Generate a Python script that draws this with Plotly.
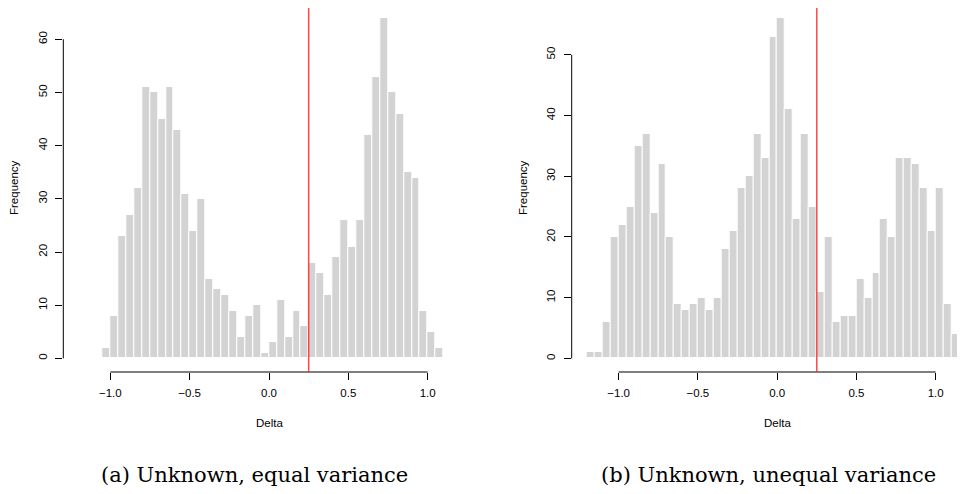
import plotly.graph_objects as go

# ---- data -------------------------------------------------------------
bin_width = 0.05
left_edges_a = [-1.05, -1.0, -0.95, -0.9, -0.85, -0.8, -0.75, -0.7, -0.65, -0.6,
                -0.55, -0.5, -0.45, -0.4, -0.35, -0.3, -0.25, -0.2, -0.15, -0.1,
                -0.05, 0.0, 0.05, 0.1, 0.15, 0.2, 0.25, 0.3, 0.35, 0.4,
                0.45, 0.5, 0.55, 0.6, 0.65, 0.7, 0.75, 0.8, 0.85, 0.9,
                0.95, 1.0, 1.05]
counts_a = [2, 8, 23, 27, 32, 51, 50, 45, 51, 43,
            31, 24, 30, 15, 13, 12, 9, 4, 8, 10,
            1, 3, 11, 4, 9, 6, 18, 16, 12, 19,
            26, 21, 26, 42, 53, 64, 50, 46, 35, 34,
            9, 5, 2]

left_edges_b = [-1.2, -1.15, -1.1, -1.05, -1.0, -0.95, -0.9, -0.85, -0.8, -0.75,
                -0.7, -0.65, -0.6, -0.55, -0.5, -0.45, -0.4, -0.35, -0.3, -0.25,
                -0.2, -0.15, -0.1, -0.05, 0.0, 0.05, 0.1, 0.15, 0.2, 0.25,
                0.3, 0.35, 0.4, 0.45, 0.5, 0.55, 0.6, 0.65, 0.7, 0.75,
                0.8, 0.85, 0.9, 0.95, 1.0, 1.05, 1.1, 1.15]
counts_b = [1, 1, 6, 20, 22, 25, 35, 37, 24, 32,
            20, 9, 8, 9, 10, 8, 10, 18, 21, 28,
            30, 37, 33, 53, 56, 41, 23, 37, 25, 11,
            20, 6, 7, 7, 13, 10, 14, 23, 20, 33,
            33, 32, 28, 21, 28, 9, 4, 2]

threshold = 0.25
x_ticks = [-1.0, -0.5, 0.0, 0.5, 1.0]
y_ticks_a = [0, 10, 20, 30, 40, 50, 60]
y_ticks_b = [0, 10, 20, 30, 40, 50]
captions = ["(a) Unknown, equal variance", "(b) Unknown, unequal variance"]
x_title = "Delta"
y_title = "Frequency"

# ---- figure -----------------------------------------------------------
OFF = 8                      # page body margin
W, H = 965 - OFF, 494 - OFF  # figure size so that its right/bottom edge meets the window edge
BAR = "#D3D3D3"
FONT = "Liberation Sans, Arial, Helvetica, sans-serif"

def px_x(p):                 # window pixel -> paper fraction
    return (p - OFF) / W

def px_y(p):
    return 1 - (p - OFF) / H

fig = go.Figure()
fig.add_trace(go.Bar(x=left_edges_a, y=counts_a, width=bin_width, offset=0,
                     marker=dict(color=BAR, line=dict(color="white", width=1)),
                     xaxis="x", yaxis="y", showlegend=False, hoverinfo="skip"))
fig.add_trace(go.Bar(x=left_edges_b, y=counts_b, width=bin_width, offset=0,
                     marker=dict(color=BAR, line=dict(color="white", width=1)),
                     xaxis="x2", yaxis="y2", showlegend=False, hoverinfo="skip"))

ydom = [px_y(372.0), 1.0]
common_x = dict(tickvals=x_ticks, tickformat=".1f", ticks="outside", ticklen=7,
                tickwidth=1, tickcolor="black", showline=False, showgrid=False,
                zeroline=False, tickfont=dict(family=FONT, size=11.5, color="black"),
                ticklabelstandoff=3)
common_y = dict(ticks="outside", ticklen=7, tickwidth=1, tickcolor="black",
                showline=False, showgrid=False, zeroline=False, tickangle=-90,
                tickfont=dict(family=FONT, size=11.5, color="black"),
                ticklabelstandoff=4)

fig.update_layout(
    width=W, height=H, margin=dict(l=0, r=0, t=0, b=0),
    paper_bgcolor="white", plot_bgcolor="white", bargap=0,
    xaxis=dict(domain=[px_x(63.3), px_x(474.7)], range=[-1.296, 1.296],
               anchor="y", **common_x),
    yaxis=dict(domain=ydom, range=[-2.56, 65.88], tickvals=y_ticks_a,
               anchor="x", **common_y),
    xaxis2=dict(domain=[px_x(571.7), 1.0], range=[-1.296, 1.185],
                anchor="y2", **common_x),
    yaxis2=dict(domain=ydom, range=[-2.24, 57.71], tickvals=y_ticks_b,
                anchor="x2", **common_y),
)

shapes = []
for xa, ya, ymax in (("x", "y", max(y_ticks_a)), ("x2", "y2", max(y_ticks_b))):
    # R-style axis lines spanning only the tick range
    shapes.append(dict(type="line", xref=xa, yref=ya + " domain",
                       x0=x_ticks[0], x1=x_ticks[-1], y0=0, y1=0,
                       line=dict(color="black", width=1)))
    shapes.append(dict(type="line", xref=xa + " domain", yref=ya,
                       x0=0, x1=0, y0=0, y1=ymax,
                       line=dict(color="black", width=1)))
    shapes.append(dict(type="line", xref=xa, yref=ya + " domain",
                       x0=threshold, x1=threshold, y0=0, y1=1,
                       line=dict(color="rgba(255,40,40,0.85)", width=1.5), layer="above"))
fig.update_layout(shapes=shapes)

ann = []
for cx, fx in ((269.0, 14.0), (777.2, 523.0)):
    ann.append(dict(text=x_title, xref="paper", yref="paper", x=px_x(cx), y=px_y(423),
                    xanchor="center", yanchor="middle", showarrow=False,
                    font=dict(family=FONT, size=11.5, color="black")))
    ann.append(dict(text=y_title, xref="paper", yref="paper", x=px_x(fx), y=px_y(188),
                    xanchor="center", yanchor="middle", showarrow=False, textangle=-90,
                    font=dict(family=FONT, size=11.5, color="black")))
for cx, txt in zip((255.0, 768.6), captions):
    ann.append(dict(text=txt, xref="paper", yref="paper", x=px_x(cx), y=px_y(475),
                    xanchor="center", yanchor="middle", showarrow=False,
                    font=dict(family="DejaVu Serif, Liberation Serif, serif", size=21,
                              color="black")))
fig.update_layout(annotations=ann)

fig.write_html("out.html")
